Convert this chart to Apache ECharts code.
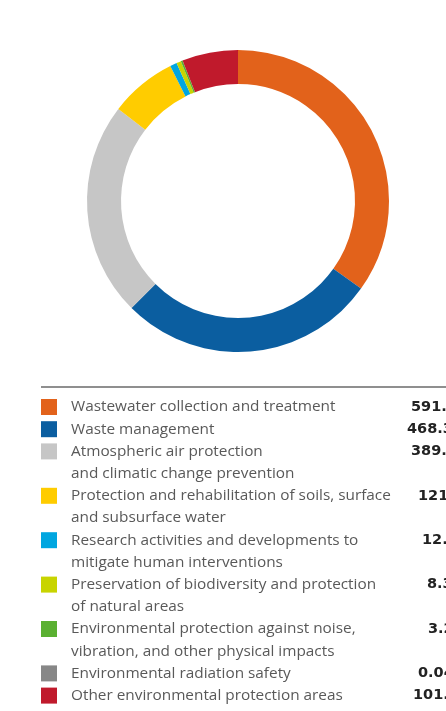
<!DOCTYPE html>
<html>
<head>
<meta charset="utf-8">
<script src="https://cdn.jsdelivr.net/npm/echarts@6/dist/echarts.min.js"></script>
<style>
  html, body { margin: 0; padding: 0; background: #fff; }
  #chart { width: 446px; height: 711px; }
</style>
</head>
<body>
<div id="chart"></div>
<script>
// categories (legend text, one entry per line)
var categories = [
  ['Wastewater collection and treatment'],
  ['Waste management'],
  ['Atmospheric air protection', 'and climatic change prevention'],
  ['Protection and rehabilitation of soils, surface', 'and subsurface water'],
  ['Research activities and developments to', 'mitigate human interventions'],
  ['Preservation of biodiversity and protection', 'of natural areas'],
  ['Environmental protection against noise,', 'vibration, and other physical impacts'],
  ['Environmental radiation safety'],
  ['Other environmental protection areas']
];
var values = [591.0, 468.3, 389.7, 121.5, 12.4, 8.31, 3.24, 0.04, 101.5];
var valueLabels = ['591.0', '468.3', '389.7', '121.5', '12.4', '8.31', '3.24', '0.04', '101.5'];
var colors = ['#E2621B', '#0B5EA0', '#C6C6C6', '#FFCC00', '#00A6E0', '#C8D400', '#5AB031', '#878787', '#C01A2C'];

// 数值列左端位置（参考图中各行数值被右边界截断）
var valueX = [411, 407, 411, 418, 422, 427, 428, 418, 413];

/**
 * 图例：色块 + 多行文字 + 右侧数值
 */
function buildLegend() {
  var items = [];
  var top = 399;
  var lineH = 22.2;
  var line = 0;

  // 顶部分隔线
  items.push({
    type: 'line',
    shape: { x1: 41, y1: 387, x2: 446, y2: 387 },
    style: { stroke: '#6a6a6a', lineWidth: 1.6 }
  });

  categories.forEach(function (lines, i) {
    var y = top + line * lineH;
    items.push({
      type: 'rect',
      shape: { x: 41, y: y, width: 16, height: 16 },
      style: { fill: colors[i] }
    });
    lines.forEach(function (t, k) {
      items.push({
        type: 'text',
        x: 71,
        y: y + 8 + k * lineH,
        style: {
          text: t,
          fill: '#595959',
          font: '15.35px "Open Sans", sans-serif',
          textVerticalAlign: 'middle'
        }
      });
    });
    items.push({
      type: 'text',
      x: valueX[i],
      y: y + 8,
      style: {
        text: valueLabels[i],
        fill: '#222',
        font: 'bold 14.5px "DejaVu Sans", sans-serif',
        textVerticalAlign: 'middle'
      }
    });
    line += lines.length;
  });
  return items;
}

var chart = echarts.init(document.getElementById('chart'), null, { renderer: 'canvas' });

chart.setOption({
  backgroundColor: '#fff',
  animation: false,
  color: colors,
  series: [{
    type: 'pie',
    center: [238, 201],
    radius: [117, 151],
    startAngle: 90,
    clockwise: true,
    silent: true,
    label: { show: false },
    labelLine: { show: false },
    itemStyle: { borderWidth: 0 },
    data: values.map(function (v, i) {
      return { name: categories[i].join(' '), value: v };
    })
  }],
  graphic: buildLegend()
});
</script>
</body>
</html>
